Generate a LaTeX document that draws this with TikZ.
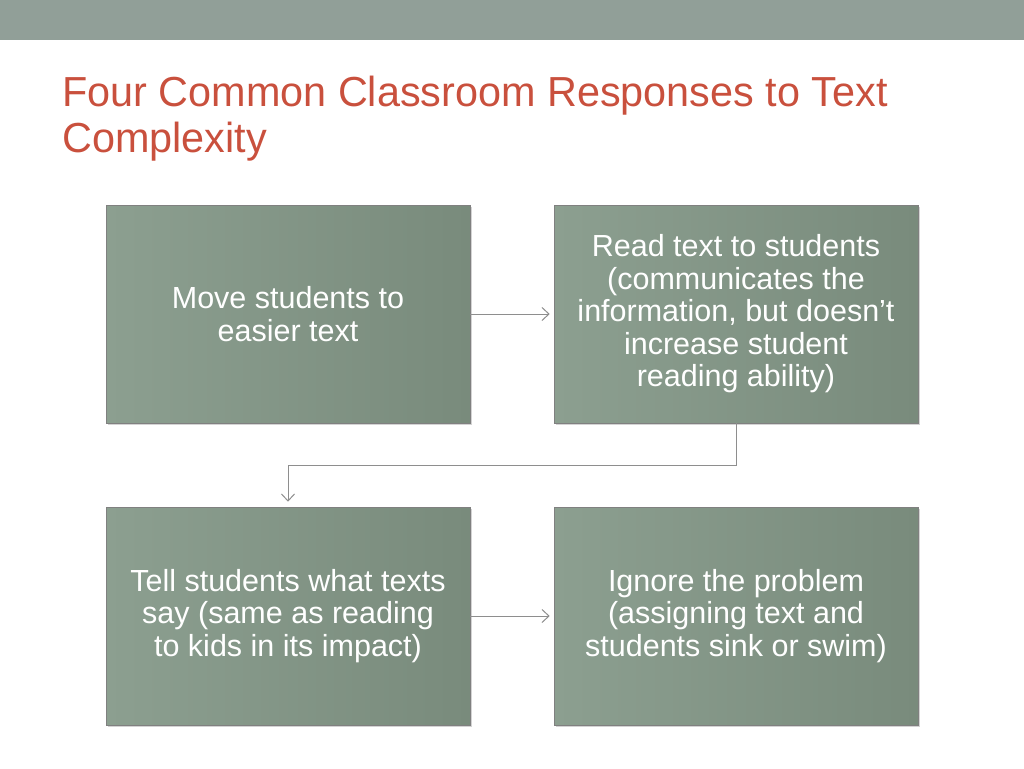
\documentclass[tikz,border=0pt]{standalone}
\usepackage{fontspec}
\setmainfont{Liberation Sans}
\usetikzlibrary{shadows,arrows.meta}
\definecolor{band}{HTML}{919F98}
\definecolor{titlered}{HTML}{C9503D}
\definecolor{boxL}{HTML}{8C9F90}
\definecolor{boxR}{HTML}{798B7C}
\definecolor{conn}{HTML}{8E8E8E}
\begin{document}
\begin{tikzpicture}[x=1pt,y=-1pt,
  card/.style={draw=black!50,line width=0.6pt,left color=boxL,right color=boxR,
    minimum width=364pt,minimum height=218pt,align=center,
    text=white,font=\fontsize{30.5}{32.5}\selectfont,inner sep=0pt,
    drop shadow={shadow xshift=1.5pt,shadow yshift=-1.5pt,opacity=0.35}},
  heading/.style={anchor=base west,inner sep=0pt,text=titlered,font=\fontsize{42}{47}\selectfont},
  link/.style={draw=conn,line width=1pt,-{Straight Barb[length=7pt,width=13pt,line width=1pt]}}]
\useasboundingbox (0,0) rectangle (1024,768);
\fill[band] (0,0) rectangle (1024,40);
\node[heading] (title1) at (62,106) {\scalebox{0.985}[1]{Four Common Classroom Responses to Text}};
\node[heading] (title2) at (62,152) {\scalebox{0.985}[1]{Complexity}};
\node[card] (a) at (288,314) {Move students to\\easier text};
\node[card] (b) at (736,314) {Read text to students\\(communicates the\\information, but doesn’t\\increase student\\reading ability)};
\node[card] (c) at (288,616) {Tell students what texts\\say (same as reading\\to kids in its impact)};
\node[card] (d) at (736,616) {Ignore the problem\\(assigning text and\\students sink or swim)};
\coordinate (m1) at (736,465);
\coordinate (m2) at (288,465);
\draw[link] (a.east) -- ([xshift=-4pt]b.west);
\draw[link] (b.south) -- (m1) -- (m2) -- ([yshift=5pt]c.north);
\draw[link] (c.east) -- ([xshift=-4pt]d.west);
\end{tikzpicture}
\end{document}
